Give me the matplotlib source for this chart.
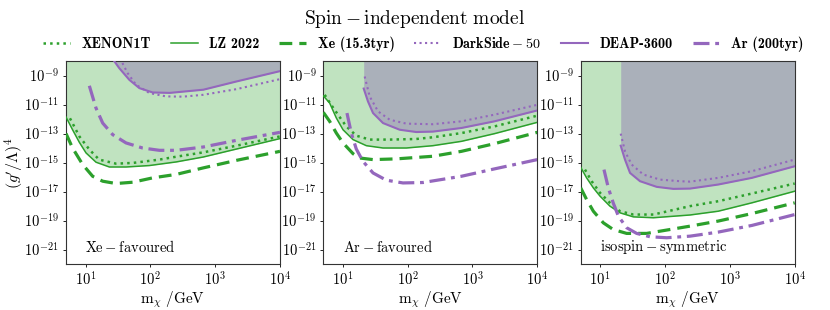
import numpy as np
import matplotlib
matplotlib.use('Agg')
import matplotlib.pyplot as plt

# Computer Modern look
plt.rcParams['font.family'] = 'serif'
plt.rcParams['font.serif'] = ['cmr10']
plt.rcParams['mathtext.fontset'] = 'cm'
plt.rcParams['axes.formatter.use_mathtext'] = True
plt.rcParams['axes.unicode_minus'] = False

# Digitised curves: log10(mass / GeV) and log10((g'/Lambda)^4), one set per panel
# --- Xe-favoured ---
xe_lz_m = [0.699, 0.80, 0.905, 1.008, 1.162, 1.368, 1.625, 1.985, 2.40, 2.818, 3.33, 4.0]
xe_lz_y = [-11.86, -12.74, -13.61, -14.34, -14.98, -15.31, -15.31, -15.21, -14.96, -14.62, -14.07, -13.35]
xe_x1t_m = [0.76, 0.905, 1.06, 1.21, 1.47, 1.73, 2.14, 2.40, 2.818, 3.33, 4.0]
xe_x1t_y = [-11.95, -13.2, -14.11, -14.8, -15.08, -15.03, -14.8, -14.6, -14.3, -13.84, -13.2]
xe_xe_m = [0.699, 0.80, 0.956, 1.11, 1.265, 1.47, 1.73, 2.036, 2.40, 2.818, 3.33, 4.0]
xe_xe_y = [-13.0, -14.0, -15.14, -15.95, -16.29, -16.45, -16.36, -16.06, -15.82, -15.37, -14.85, -14.23]
xe_ar_m = [1.059, 1.162, 1.265, 1.42, 1.625, 1.88, 2.14, 2.40, 2.818, 3.33, 4.0]
xe_ar_y = [-9.71, -11.25, -12.28, -13.08, -13.65, -14.0, -14.16, -14.16, -13.93, -13.47, -12.92]
xe_deap_m = [1.41, 1.52, 1.676, 1.83, 2.036, 2.30, 2.818, 3.33, 4.0]
xe_deap_y = [-7.8, -8.49, -9.3, -9.87, -10.17, -10.2, -9.98, -9.41, -8.70]
xe_ds_m = [1.53, 1.65, 1.78, 1.985, 2.24, 2.5, 2.818, 3.33, 4.0]
xe_ds_y = [-7.8, -8.84, -9.64, -10.21, -10.44, -10.46, -10.33, -9.94, -9.25]

# --- Ar-favoured ---
ar_lz_m = [0.699, 0.797, 0.90, 1.003, 1.157, 1.363, 1.62, 1.98, 2.39, 2.83, 3.34, 4.0]
ar_lz_y = [-10.40, -10.9, -11.93, -12.74, -13.42, -13.84, -14.0, -14.0, -13.84, -13.54, -13.01, -12.23]
ar_x1t_m = [0.72, 0.82, 0.925, 1.054, 1.208, 1.414, 1.72, 2.13, 2.39, 2.83, 3.34, 4.0]
ar_x1t_y = [-10.33, -11.02, -11.7, -12.51, -13.15, -13.42, -13.42, -13.38, -13.26, -12.97, -12.51, -11.77]
ar_xe_m = [0.699, 0.797, 0.90, 1.003, 1.157, 1.26, 1.466, 1.826, 2.39, 2.83, 3.34, 4.0]
ar_xe_y = [-11.54, -12.16, -12.97, -13.65, -14.39, -14.69, -14.8, -14.75, -14.57, -14.23, -13.7, -12.92]
ar_ar_m = [1.064, 1.131, 1.208, 1.311, 1.466, 1.671, 1.928, 2.237, 2.83, 3.34, 4.0]
ar_ar_y = [-11.59, -12.97, -14.07, -14.92, -15.72, -16.22, -16.41, -16.38, -15.95, -15.44, -14.8]
ar_deap_m = [1.322, 1.388, 1.466, 1.62, 1.877, 2.134, 2.39, 2.83, 3.34, 4.0]
ar_deap_y = [-9.9, -10.79, -11.59, -12.28, -12.74, -12.9, -12.87, -12.62, -12.16, -11.41]
ar_ds_m = [1.337, 1.414, 1.543, 1.723, 1.98, 2.39, 2.83, 3.34, 4.0]
ar_ds_y = [-9.07, -10.44, -11.47, -12.05, -12.32, -12.36, -12.16, -11.7, -11.02]

# --- isospin-symmetric ---
is_lz_m = [0.699, 0.79, 0.894, 0.997, 1.15, 1.305, 1.511, 1.82, 2.385, 2.82, 3.34, 4.0]
is_lz_y = [-15.33, -16.06, -16.75, -17.32, -18.01, -18.47, -18.75, -18.81, -18.62, -18.36, -17.78, -16.98]
is_x1t_m = [0.765, 0.868, 0.997, 1.15, 1.305, 1.511, 1.82, 2.385, 2.82, 3.34, 4.0]
is_x1t_y = [-15.49, -16.29, -17.09, -17.78, -18.36, -18.59, -18.59, -18.01, -17.67, -17.14, -16.45]
is_xe_m = [0.699, 0.79, 0.894, 1.048, 1.2, 1.408, 1.717, 2.025, 2.385, 2.82, 3.34, 4.0]
is_xe_y = [-16.75, -17.55, -18.36, -19.16, -19.62, -19.89, -19.89, -19.66, -19.39, -19.04, -18.52, -17.78]
is_ar_m = [1.058, 1.125, 1.2, 1.28, 1.408, 1.562, 1.768, 2.025, 2.385, 2.82, 3.34, 4.0]
is_ar_y = [-15.49, -16.75, -17.78, -18.7, -19.5, -19.89, -20.12, -20.19, -20.08, -19.8, -19.34, -18.59]
is_deap_m = [1.316, 1.382, 1.46, 1.614, 1.871, 2.128, 2.385, 2.82, 3.34, 4.0]
is_deap_y = [-13.84, -14.8, -15.72, -16.29, -16.68, -16.82, -16.8, -16.52, -16.06, -15.26]
is_ds_m = [1.316, 1.382, 1.485, 1.665, 1.923, 2.231, 2.385, 2.82, 3.34, 4.0]
is_ds_y = [-13.01, -14.23, -15.14, -15.83, -16.18, -16.29, -16.32, -16.06, -15.6, -14.8]

panel_names = [r'$\rm Xe-favoured$', r'$\rm Ar-favoured$', r'$\rm isospin-symmetric$']
panels = [
    dict(lz=(xe_lz_m, xe_lz_y), x1t=(xe_x1t_m, xe_x1t_y), xe=(xe_xe_m, xe_xe_y),
         ar=(xe_ar_m, xe_ar_y), deap=(xe_deap_m, xe_deap_y), ds=(xe_ds_m, xe_ds_y)),
    dict(lz=(ar_lz_m, ar_lz_y), x1t=(ar_x1t_m, ar_x1t_y), xe=(ar_xe_m, ar_xe_y),
         ar=(ar_ar_m, ar_ar_y), deap=(ar_deap_m, ar_deap_y), ds=(ar_ds_m, ar_ds_y)),
    dict(lz=(is_lz_m, is_lz_y), x1t=(is_x1t_m, is_x1t_y), xe=(is_xe_m, is_xe_y),
         ar=(is_ar_m, is_ar_y), deap=(is_deap_m, is_deap_y), ds=(is_ds_m, is_ds_y)),
]

green = '#2ca02c'
purple = '#9467bd'
green_fill = '#c0e3c0'
grey_fill = '#aab0ba'

fig = plt.figure(figsize=(8.3, 3.1), dpi=100)
lefts = [66 / 830, 323.3 / 830, 580.7 / 830]
bottom, width, height = 46 / 310, 214 / 830, 203 / 310

def xy(curve):
    return 10 ** np.array(curve[0]), 10 ** np.array(curve[1])

for i, (p, name) in enumerate(zip(panels, panel_names)):
    ax = fig.add_axes([lefts[i], bottom, width, height])

    # excluded regions
    m, y = xy(p['lz'])
    ax.fill_between(m, y, 1e-6, color=green_fill, lw=0, zorder=1)
    m, y = xy(p['deap'])
    ax.fill_between(m, y, 1e-6, color=grey_fill, lw=0, zorder=2)

    ax.plot(*xy(p['x1t']), ':', color=green, lw=1.8, label='XENON1T', zorder=3)
    ax.plot(*xy(p['lz']), '-', color=green, lw=1.1, label='LZ 2022', zorder=3)
    ax.plot(*xy(p['xe']), '--', color=green, lw=2.3, dashes=(4, 2.2), label='Xe (15.3tyr)', zorder=3)
    ax.plot(*xy(p['ds']), ':', color=purple, lw=1.5, label=r'$\mathbf{DarkSide-50}$', zorder=3)
    ax.plot(*xy(p['deap']), '-', color=purple, lw=1.5, label='DEAP-3600', zorder=3)
    ax.plot(*xy(p['ar']), '-.', color=purple, lw=2.3, dashes=(5, 1.8, 1.2, 1.8), label='Ar (200tyr)', zorder=3)

    ax.set_xscale('log')
    ax.set_yscale('log')
    ax.set_xlim(5, 1e4)
    ax.set_ylim(1e-22, 1e-8)
    ax.set_xticks([1e1, 1e2, 1e3, 1e4])
    ax.set_yticks([1e-21, 1e-19, 1e-17, 1e-15, 1e-13, 1e-11, 1e-9])
    ax.minorticks_off()
    ax.tick_params(labelsize=10.5, length=2.5, width=0.6, pad=2.5)
    for s in ax.spines.values():
        s.set_linewidth(0.8)
        s.set_color('#333333')
    ax.set_xlabel(r'$\rm m_\chi\ /GeV$', fontsize=11)
    ax.xaxis.set_label_coords(0.5, -0.125)
    if i == 0:
        ax.set_ylabel(r"$(g'/\Lambda)^4$", fontsize=11.5)
        ax.yaxis.set_label_coords(-0.19, 0.5)
    ax.text(0.09, 0.086, name, transform=ax.transAxes, fontsize=10.5, va='center', zorder=4)

handles, labels = ax.get_legend_handles_labels()
fig.legend(handles, labels, loc='center', bbox_to_anchor=(0.51, 1 - 44 / 310), ncol=6,
           frameon=False, prop={'family': 'cmb10', 'size': 10.2},
           handlelength=1.9, columnspacing=1.4, handletextpad=0.8)
fig.suptitle(r'$\rm Spin-independent\ model$', y=1 - 19 / 310, va='center', fontsize=14)

fig.savefig('out.png', dpi=100)
